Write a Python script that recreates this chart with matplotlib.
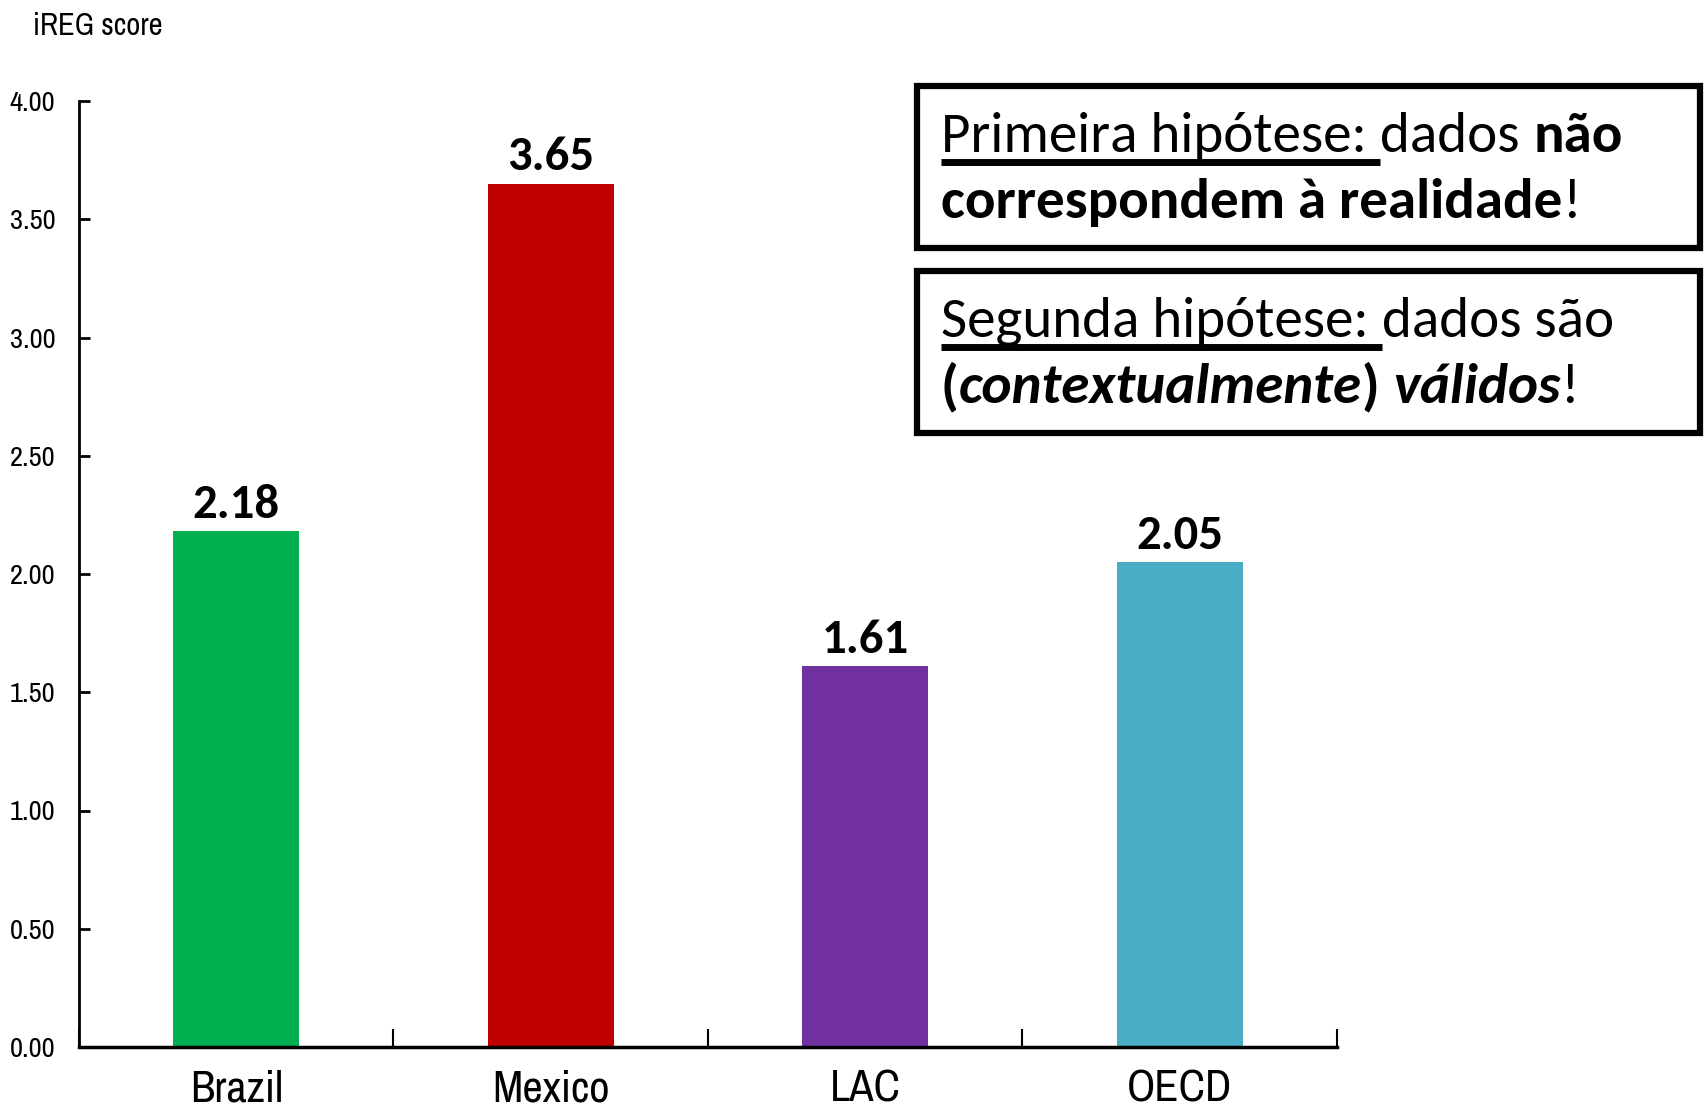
import matplotlib
matplotlib.use("Agg")
import matplotlib.pyplot as plt
from matplotlib import font_manager as fm
from matplotlib.lines import Line2D
from matplotlib.patches import Rectangle

categories = ["Brazil", "Mexico", "LAC", "OECD"]
values = [2.18, 3.65, 1.61, 2.05]
colors = ["#00B050", "#C00000", "#7030A0", "#4BACC6"]
yticks = [0.0, 0.5, 1.0, 1.5, 2.0, 2.5, 3.0, 3.5, 4.0]
ylabel = "iREG score"

available = {f.name for f in fm.fontManager.ttflist}


def pick(prefs):
    for p in prefs:
        if p in available:
            return p
    return "DejaVu Sans"


narrow_name = pick(["Liberation Sans Narrow", "Arial Narrow", "Archivo Narrow", "PT Sans Narrow",
                    "Roboto Condensed", "IBM Plex Sans Condensed"])
body_name = pick(["Carlito", "Calibri", "Lato"])
NARROW = [narrow_name, "DejaVu Sans"]
BODY = [body_name, "DejaVu Sans"]
calibri_like = body_name in ("Carlito", "Calibri")

W, H = 1706, 1110
fig = plt.figure(figsize=(W / 100, H / 100), dpi=100)
ax = fig.add_axes([79 / W, 1 - 1047 / H, (1337 - 79) / W, (1047 - 101) / H])

x = list(range(len(categories)))
ax.bar(x, values, width=0.40, color=colors, zorder=2)
ax.set_xlim(-0.5, len(categories) - 0.5)
ax.set_ylim(0, 4.0)

ax.set_yticks(yticks)
ax.set_yticklabels([f"{v:.2f}" for v in yticks], family=NARROW, fontsize=20.5)
ax.tick_params(axis="y", direction="in", length=8, width=2, pad=17)

ax.set_xticks(x)
ax.set_xticklabels(categories, family=NARROW, fontsize=32)
ax.tick_params(axis="x", which="major", length=0, pad=16)
ax.set_xticks([i - 0.5 for i in range(len(categories) + 1)], minor=True)
ax.tick_params(axis="x", which="minor", direction="in", length=13, width=1.5)

for s in ["top", "right"]:
    ax.spines[s].set_visible(False)
ax.spines["left"].set_linewidth(2)
ax.spines["bottom"].set_linewidth(2.5)

for xi, v in zip(x, values):
    ax.annotate(f"{v:.2f}", (xi, v), xytext=(0, 4), textcoords="offset points",
                ha="center", va="bottom", family=BODY, fontweight="bold",
                fontsize=35 if calibri_like else 31)

fig.text(33 / W, 1 - 35 / H, ylabel, family=NARROW, fontsize=22, va="baseline", ha="left")

# Text boxes
for (y0, y1) in [(86, 248), (271, 433)]:
    fig.patches.append(Rectangle((917 / W, 1 - y1 / H), (1700 - 917) / W, (y1 - y0) / H,
                                 transform=fig.transFigure, fill=False, lw=4.5,
                                 edgecolor="black"))

renderer = fig.canvas.get_renderer()
FS = 41 if calibri_like else 37.5


def line_of(pieces, x0px, baseline_px, underline_upto=None):
    xpx = x0px
    ends = []
    for s, weight, style in pieces:
        if s == " ":
            t = fig.text(0, 0, "n", family=BODY, fontsize=FS)
            w = t.get_window_extent(renderer).width * 0.45
            t.remove()
            xpx += w
            ends.append(xpx)
            continue
        t = fig.text(xpx / W, 1 - baseline_px / H, s, family=BODY, fontsize=FS,
                     fontweight=weight, fontstyle=style, va="baseline", ha="left")
        bb = t.get_window_extent(renderer)
        xpx += bb.width
        ends.append(xpx)
    if underline_upto is not None:
        end = ends[underline_upto]
        yl = 1 - (baseline_px + 10) / H
        fig.lines.append(Line2D([x0px / W, end / W], [yl, yl], transform=fig.transFigure,
                                color="black", lw=5, solid_capstyle="butt"))


line_of([("Primeira hipótese:", "normal", "normal"), (" ", None, None),
         ("dados", "normal", "normal"), (" ", None, None), ("não", "bold", "normal")],
        941, 152, underline_upto=1)
line_of([("correspondem à realidade", "bold", "normal"), ("!", "normal", "normal")], 941, 218)
line_of([("Segunda hipótese:", "normal", "normal"), (" ", None, None),
         ("dados são", "normal", "normal")], 941, 337, underline_upto=1)
line_of([("(", "bold", "normal"), ("contextualmente", "bold", "italic"), (")", "bold", "normal"),
         (" ", None, None), ("válidos", "bold", "italic"), ("!", "normal", "normal")], 941, 403)

fig.savefig("out.png", dpi=100)
